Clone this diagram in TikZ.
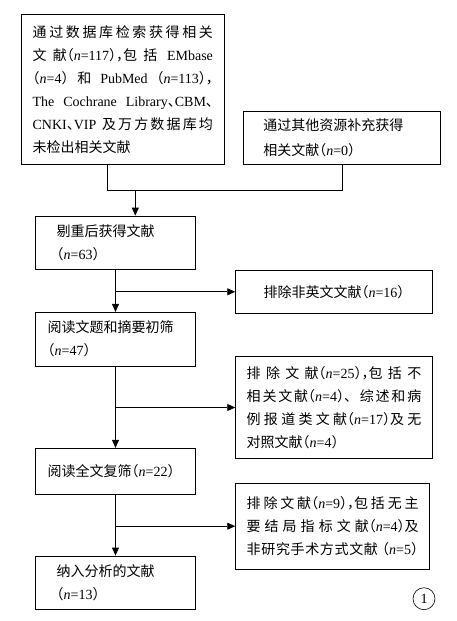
\documentclass[tikz,border=0pt]{standalone}
\usepackage{fontspec}
\setmainfont{Liberation Serif}
\newfontfamily\cjkplain{Noto Sans CJK SC}
\newfontfamily\cjkspaced[LetterSpace=7]{Noto Sans CJK SC}
\newfontfamily\cjkhalf[RawFeature=+halt]{Noto Sans CJK SC}
\let\cjk\cjkspaced
\newcommand{\zhtxt}[1]{{\cjk #1}}
\newcommand{\zhhalf}[1]{{\cjkhalf #1}}
\newcommand{\ncount}[1]{\zhhalf{（}\textit{n}=#1\zhhalf{）}}
\newcommand{\fitlines}{\XeTeXlinebreaklocale "zh"\XeTeXlinebreakskip=0pt plus 1fil\relax
  \spaceskip=0.25em plus 1fil\relax\tolerance=10000\relax}
\newcommand{\lastline}{\hspace{0pt plus 1fill}\hbox{}}
\usetikzlibrary{arrows.meta,positioning}

\begin{document}
\begin{tikzpicture}[
  x=1pt, y=-1pt,
  box/.style={draw, line width=0.9pt, align=left, inner ysep=0pt, font=\fontsize{14}{23}\selectfont},
  wide/.style={align=justify, execute at begin node=\let\cjk\cjkplain},
  arrow/.style={-{Triangle[length=8pt,width=7pt]}, line width=0.9pt},
  link/.style={line width=0.9pt}
]
  \useasboundingbox (0,0) rectangle (456,621);

  % Sources
  \node[box, wide, text width=180.3pt, inner xsep=11pt, minimum height=149.7pt] (dbs) at (122.8,89.2)
    {\fitlines
     \zhtxt{通过数据库检索获得相关}\linebreak
     \zhtxt{文献}\ncount{117}\zhhalf{，}\zhtxt{包括} EMbase\linebreak
     \ncount{4} \zhtxt{和} PubMed \ncount{113}\zhhalf{，}\linebreak
     The Cochrane Library\zhhalf{、}CBM\zhhalf{、}\linebreak
     CNKI\zhhalf{、}VIP \zhtxt{及万方数据库均}\linebreak
     \zhtxt{未检出相关文献}\lastline};
  \node[box, text width=157.4pt, inner xsep=19.6pt, minimum height=52.7pt, font=\fontsize{14}{25}\selectfont] (other) at (342,137.7)
    {\zhtxt{通过其他资源补充获得}\\
     \zhtxt{相关文献}\ncount{0}};

  % Screening steps
  \node[box, text width=117.6pt, inner xsep=21pt, minimum height=53.3pt] (dedup) at (115.5,242.7)
    {\zhtxt{剔重后获得文献}\\ \ncount{63}};
  \node[box, text width=135.6pt, inner xsep=12pt, minimum height=53.7pt] (title) at (115.5,339.2)
    {\zhtxt{阅读文题和摘要初筛}\\ \ncount{47}};
  \node[box, text width=135.6pt, inner xsep=12pt, minimum height=46pt] (full) at (115.5,471.3)
    {\zhtxt{阅读全文复筛}\ncount{22}};
  \node[box, text width=117.6pt, inner xsep=21pt, minimum height=53.3pt] (incl) at (115.5,582.7)
    {\zhtxt{纳入分析的文献}\\ \ncount{13}};

  % Exclusions
  \node[box, align=center, text width=176.6pt, inner xsep=10pt, minimum height=43pt] (lang) at (334,291.8)
    {\zhtxt{排除非英文文献}\ncount{16}};
  \node[box, wide, text width=174.6pt, inner xsep=11pt, minimum height=101.6pt] (ex25) at (334,407.5)
    {\fitlines
     \zhtxt{排除文献}\ncount{25}\zhhalf{，}\zhtxt{包括不}\linebreak
     \zhtxt{相关文献}\ncount{4}\zhtxt{、综述和病}\linebreak
     \zhtxt{例报道类文献}\ncount{17}\zhtxt{及无}\linebreak
     \zhtxt{对照文献}\ncount{4}\lastline};
  \node[box, wide, text width=172pt, inner xsep=11pt, minimum height=85.7pt] (ex9) at (332.7,526.2)
    {\fitlines\parfillskip=0pt\relax
     \zhtxt{排除文献}\ncount{9}\zhhalf{，}\zhtxt{包括无主}\linebreak
     \zhtxt{要结局指标文献}\ncount{4}\zhtxt{及}\linebreak
     \zhtxt{非研究手术方式文献} \ncount{5}};

  % Figure number
  \node[circle, draw, line width=0.6pt, minimum size=22pt, inner sep=0pt, font=\fontsize{14}{14}\selectfont] (fignum) at (424,598.7) {1};

  % Connectors
  \coordinate (join) at (135.3,190.5);
  \draw[link] ([xshift=-15.1]dbs.south) |- (join) -| (other.south);
  \draw[arrow] (join) -- (dedup.north -| join);
  \draw[arrow] (dedup) -- (title);
  \draw[arrow] (dedup.south |- lang.west) -- (lang.west);
  \draw[arrow] (title) -- (full);
  \draw[arrow] (title.south |- ex25.west) -- (ex25.west);
  \draw[arrow] (full) -- (incl);
  \draw[arrow] (full.south |- ex9.west) -- (ex9.west);
\end{tikzpicture}
\end{document}
